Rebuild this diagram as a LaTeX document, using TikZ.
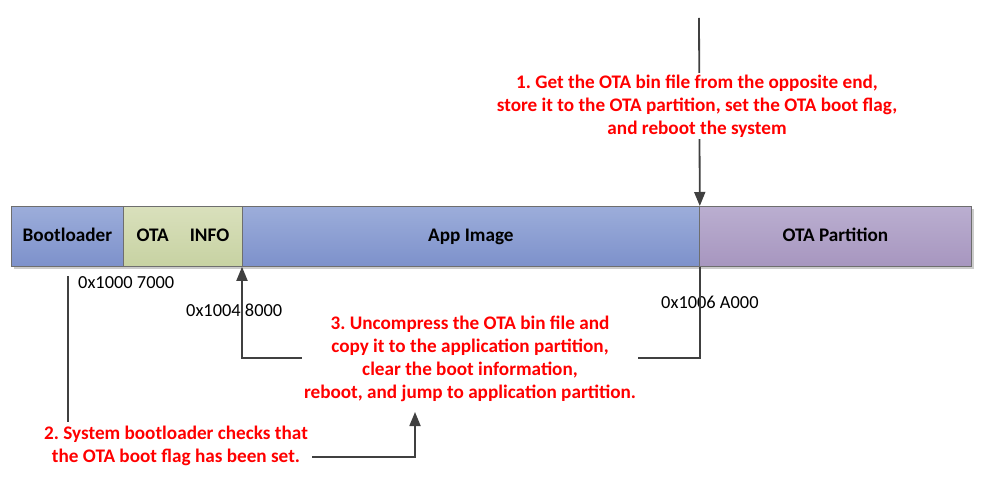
\documentclass[tikz,border=0pt]{standalone}
\usepackage{fontspec}
\setmainfont{Carlito}
\frenchspacing
\usetikzlibrary{arrows.meta}
\definecolor{lineC}{HTML}{404040}
\definecolor{edgeC}{HTML}{6E6E6E}
\definecolor{noteC}{HTML}{FF0000}
\begin{document}
\begin{tikzpicture}[x=1pt,y=-1pt,
  seg/.style={draw=edgeC,line width=0.8pt,minimum height=60pt,inner sep=0pt,
    text height=0.97em,text depth=0pt,
    font=\fontsize{19.2}{22}\selectfont\bfseries,anchor=north west},
  blueseg/.style={seg,top color=blue1,bottom color=blue2},
  addr/.style={font=\fontsize{18.4}{21}\selectfont,inner sep=0pt,anchor=west},
  note/.style={text=noteC,font=\fontsize{19.2}{23}\selectfont\bfseries,align=center,
    fill=white,inner sep=2pt},
  wire/.style={draw=lineC,line width=1.8pt},
  arr/.style={wire,-{Triangle[length=14pt,width=11pt]}}]
\definecolor{blue1}{HTML}{9CADDA}
\definecolor{blue2}{HTML}{7D91CB}
\definecolor{green1}{HTML}{D9E0BC}
\definecolor{green2}{HTML}{C7D2A2}
\definecolor{purp1}{HTML}{BAAED0}
\definecolor{purp2}{HTML}{A796BF}
\useasboundingbox (0,0) rectangle (984,481);
% drop shadow under the memory bar
\fill[black!20] (14,209) rectangle (974,269);
% memory map bar
\node[blueseg,minimum width=112pt] (boot) at (11,206) {Bootloader};
\node[seg,minimum width=119pt,top color=green1,bottom color=green2] (info) at (123,206) {OTA\hspace{1.1em}INFO};
\node[blueseg,minimum width=457pt] (app) at (242,206) {App Image};
\node[seg,minimum width=272pt,top color=purp1,bottom color=purp2] (ota) at (699,206) {OTA Partition};
% addresses
\node[addr] (a1) at (78,283) {0x1000 7000};
\node[addr] (a2) at (186,310) {0x1004 8000};
\node[addr] (a3) at (661,302) {0x1006 A000};
% free ends of connectors
\coordinate (src) at (699,18);
\coordinate (bootdrop) at (68,276);
\coordinate (bootend) at (68,422);
\coordinate (jump) at (415,412);
% step 1: incoming image
\draw[arr] (src) -- (app.north east);
\node[note] (n1) at (697,106) {1. Get the OTA bin file from the opposite end,\\store it to the OTA partition, set the OTA boot flag,\\and reboot the system};
% step 3: copy back to application partition
\draw[arr] (app.south east) -- ++(0,91) -| (app.south west);
\node[note] (n3) at (470,359) {3. Uncompress the OTA bin file and\\copy it to the application partition,\\clear the boot information,\\reboot, and jump to application partition.};
% step 2: bootloader check
\draw[wire] (bootdrop) -- (bootend);
\node[note,inner sep=0pt] (n2) at (176,446) {2. System bootloader checks that\\the OTA boot flag has been set.};
\draw[arr] ([xshift=4pt,yshift=-11pt]n2.east) -| (jump);
\end{tikzpicture}
\end{document}
